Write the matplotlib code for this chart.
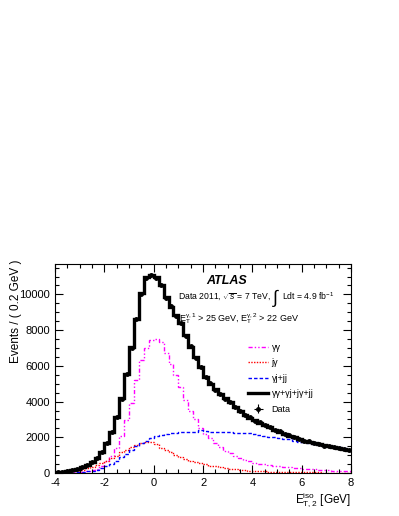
import matplotlib
matplotlib.use('Agg')
import matplotlib.pyplot as plt
from matplotlib.ticker import MultipleLocator
import numpy as np

plt.rcParams['font.family'] = ['Liberation Sans', 'DejaVu Sans']
plt.rcParams['mathtext.fontset'] = 'custom'
plt.rcParams['mathtext.rm'] = 'Liberation Sans'
plt.rcParams['mathtext.it'] = 'Liberation Sans:italic'
plt.rcParams['mathtext.bf'] = 'Liberation Sans:bold'
plt.rcParams['axes.unicode_minus'] = False

# bin edges -4 .. 8, width 0.2 GeV
edges = np.round(np.arange(-4.0, 8.0001, 0.2), 2)
centers = edges[:-1] + 0.1

total = [50, 80, 120, 170, 240, 330, 450, 615, 840, 1170,
         1680, 2290, 3130, 4190, 5530, 7040, 8600, 10060, 10960, 11070,
         10950, 10500, 9840, 9300, 8830, 8385, 7700, 7040, 6480, 5925,
         5370, 5000, 4700, 4400, 4200, 3950, 3700, 3450, 3250, 3100,
         2950, 2820, 2700, 2550, 2430, 2320, 2200, 2100, 2010, 1880,
         1810, 1750, 1690, 1620, 1560, 1500, 1450, 1400, 1350, 1300]

data = [60, 70, 130, 160, 250, 320, 470, 600, 860, 1150,
        1700, 2270, 3150, 4150, 5550, 7000, 8650, 10050, 10900, 11100,
        10900, 10550, 9800, 9350, 8800, 8400, 7650, 7100, 6450, 5950,
        5350, 5050, 4650, 4420, 4150, 3980, 3680, 3470, 3230, 3120,
        2930, 2840, 2680, 2570, 2410, 2340, 2180, 2120, 1990, 1900,
        1790, 1770, 1670, 1640, 1540, 1520, 1430, 1410, 1330, 1310]

gg = [10, 15, 25, 35, 50, 70, 110, 160, 250, 420,
      650, 950, 1400, 2100, 2950, 3900, 5200, 6300, 7000, 7450,
      7500, 7350, 6700, 6100, 5500, 4800, 4100, 3500, 3000, 2500,
      2200, 1950, 1700, 1450, 1250, 1100, 950, 850, 750, 650,
      570, 520, 480, 440, 400, 370, 340, 310, 280, 260,
      240, 220, 200, 185, 170, 155, 140, 125, 110, 100]

jg = [30, 50, 70, 100, 140, 190, 260, 340, 450, 560,
      680, 820, 980, 1150, 1300, 1450, 1580, 1680, 1740, 1720,
      1600, 1420, 1300, 1160, 1020, 900, 800, 700, 620, 550,
      480, 420, 370, 320, 280, 240, 210, 180, 160, 140,
      120, 105, 92, 80, 70, 62, 55, 50, 45, 40,
      37, 34, 31, 29, 27, 25, 23, 22, 21, 20]

gj_jj = [5, 10, 15, 25, 40, 60, 90, 130, 190, 270,
         380, 520, 680, 870, 1080, 1300, 1500, 1680, 1820, 1950,
         2050, 2130, 2180, 2220, 2250, 2270, 2280, 2290, 2310, 2400,
         2330, 2300, 2290, 2290, 2280, 2270, 2260, 2250, 2240, 2230,
         2200, 2130, 2060, 2020, 2000, 1960, 1920, 1880, 1800, 1760,
         1730, 1680, 1630, 1590, 1550, 1510, 1470, 1430, 1380, 1300]

fig = plt.figure(figsize=(3.99, 5.16), dpi=100)
ax = fig.add_axes([0.138, 0.0833, 0.742, 0.405])


def step(vals, **kw):
    return ax.stairs(vals, edges, baseline=None, **kw)


step(gg, color='#ff00ff', lw=1.0, linestyle=(0, (3, 1.5, 1, 1.5, 1, 1.5)),
     label='γγ')
step(jg, color='#ff0000', lw=1.0, linestyle=(0, (1, 1)), label='jγ')
step(gj_jj, color='#0000ff', lw=1.0, linestyle=(0, (2.5, 1.5)),
     label='γj+jj')
step(total, color='black', lw=2.4, label='γγ+γj+jγ+jj')
ax.errorbar(centers, data, xerr=0.1, yerr=np.sqrt(data), fmt='o',
            color='black', ms=2.5, lw=0.8, capsize=0, label='Data')

ax.set_xlim(-4, 8)
ax.set_ylim(0, 11700)
ax.xaxis.set_major_locator(MultipleLocator(2))
ax.xaxis.set_minor_locator(MultipleLocator(0.5))
ax.yaxis.set_major_locator(MultipleLocator(2000))
ax.yaxis.set_minor_locator(MultipleLocator(500))
ax.tick_params(which='both', direction='in', top=True, right=True,
               labelsize=8, width=0.8)
ax.tick_params(which='major', length=6)
ax.tick_params(which='minor', length=3)
for s in ax.spines.values():
    s.set_linewidth(0.8)

ax.text(0.58, 0.92, 'ATLAS', transform=ax.transAxes, fontsize=9,
        fontweight='bold', fontstyle='italic', ha='center', va='center')
t1 = ax.text(0.415, 0.845, r'Data 2011, $\sqrt{s}$ = 7 TeV,',
             transform=ax.transAxes, fontsize=6.2, ha='left', va='center')
t2 = ax.annotate(r'$\int$', xy=(1, 0.5), xycoords=t1, xytext=(0.5, -1),
                 textcoords='offset points', fontsize=13, ha='left',
                 va='center')
ax.annotate(r'Ldt = 4.9 fb$^{-1}$', xy=(1, 0.5), xycoords=t2, xytext=(1, 1),
            textcoords='offset points', fontsize=6.2, ha='left', va='center')
ax.text(0.42, 0.74,
        r'E$_{\mathrm{T}}^{\mathrm{γ,1}}$ > 25 GeV, E$_{\mathrm{T}}^{\mathrm{γ,2}}$ > 22 GeV',
        transform=ax.transAxes, fontsize=6.5, ha='left', va='center')

ax.legend(loc='upper left', bbox_to_anchor=(0.64, 0.64), frameon=False,
          fontsize=6.5, handlelength=2.2, labelspacing=0.72,
          handletextpad=0.4, borderaxespad=0)

fig.text(0.04, 0.397, 'Events / ( 0.2 GeV )', rotation=90, fontsize=8.5,
         ha='center', va='center')
fig.text(0.88, 0.031, r'E$_{\mathrm{T,2}}^{\mathrm{iso}}$ [GeV]',
         fontsize=8.5, ha='right', va='center')

fig.savefig('out.png', dpi=100)
